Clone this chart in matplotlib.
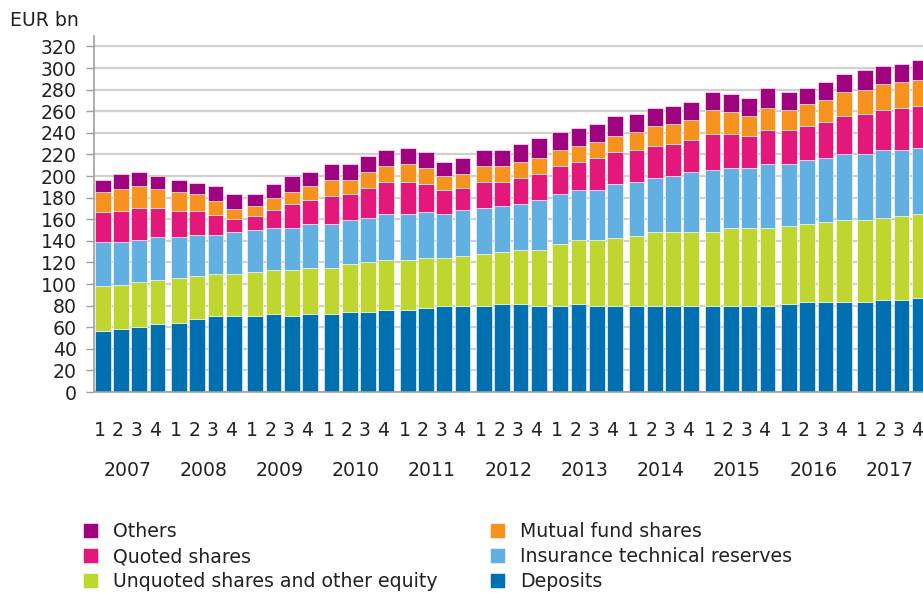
import matplotlib
matplotlib.use("Agg")
import matplotlib.pyplot as plt
import matplotlib.transforms as mtransforms
import numpy as np

years = [str(y) for y in range(2007, 2018)]
quarters = ["1", "2", "3", "4"]

deposits = [56.8, 58.6, 60.5, 62.7, 64.2, 67.9, 70.1, 70.1, 70.1, 71.9, 70.1, 71.9,
            71.9, 73.8, 73.8, 75.6, 75.9, 77.8, 79.6, 79.6, 79.6, 81.5, 81.5, 79.6,
            79.6, 81.2, 79.3, 79.3, 79.3, 79.3, 79.3, 79.3, 79.3, 79.3, 79.3, 79.3,
            81.2, 83.0, 83.0, 83.0, 83.0, 84.9, 84.9, 86.7]
unquoted = [41.3, 40.8, 41.0, 40.7, 41.0, 39.2, 38.8, 38.8, 40.7, 40.8, 42.6, 42.6,
            42.6, 44.4, 46.3, 46.3, 46.3, 46.3, 44.5, 46.3, 48.2, 48.1, 50.0, 51.9,
            57.4, 59.2, 61.1, 63.0, 64.8, 68.5, 68.5, 68.5, 68.5, 72.2, 72.2, 72.2,
            72.2, 72.2, 74.1, 75.9, 75.9, 75.9, 77.7, 77.8]
insurance = [40.5, 39.2, 38.9, 40.4, 38.6, 38.6, 36.8, 38.9, 38.9, 38.8, 38.8, 40.7,
             40.7, 40.7, 40.7, 42.6, 42.6, 42.6, 40.7, 42.6, 42.6, 42.6, 42.6, 46.3,
             46.3, 46.3, 46.3, 50.0, 50.0, 50.0, 51.9, 55.6, 57.4, 55.6, 55.6, 59.3,
             57.4, 59.3, 59.3, 61.2, 61.2, 63.0, 61.2, 61.1]
quoted = [27.8, 29.3, 29.7, 26.3, 24.1, 22.2, 18.5, 12.7, 12.9, 16.7, 22.3, 22.3,
          26.0, 24.1, 27.8, 29.6, 29.6, 25.9, 22.2, 20.4, 24.0, 22.2, 24.0, 24.1,
          26.0, 25.9, 29.7, 29.6, 29.7, 29.7, 29.6, 29.6, 33.4, 31.5, 29.6, 31.5,
          31.5, 31.5, 33.3, 35.1, 37.0, 37.0, 38.8, 38.9]
mutual = [18.5, 20.4, 20.3, 18.2, 17.0, 15.1, 13.0, 9.3, 9.3, 11.1, 11.1, 12.9,
          14.8, 13.0, 14.8, 14.9, 16.7, 14.8, 13.0, 13.0, 14.9, 14.9, 14.5, 14.5,
          14.5, 14.9, 14.8, 14.8, 16.6, 18.5, 18.5, 18.5, 22.2, 20.3, 18.5, 20.3,
          18.5, 20.4, 20.4, 22.3, 22.2, 24.1, 24.1, 24.1]
others = [11.4, 13.2, 13.0, 11.4, 11.1, 10.8, 13.2, 13.2, 11.1, 13.0, 14.8, 13.0,
          14.8, 14.8, 15.1, 14.8, 14.5, 14.5, 12.6, 14.5, 14.5, 14.5, 16.7, 18.5,
          16.6, 16.6, 16.6, 18.5, 16.7, 16.6, 16.7, 16.7, 16.7, 16.7, 16.7, 18.6,
          16.7, 14.8, 16.6, 16.6, 18.5, 16.6, 16.7, 18.5]

series = [
    ("Deposits", deposits, "#0070B0"),
    ("Unquoted shares and other equity", unquoted, "#BED62F"),
    ("Insurance technical reserves", insurance, "#62AFE2"),
    ("Quoted shares", quoted, "#E4177A"),
    ("Mutual fund shares", mutual, "#F7921E"),
    ("Others", others, "#A0037F"),
]

FS = 13.6
plt.rcParams["font.family"] = ["DejaVu Sans"]

W, H = 923, 593
fig = plt.figure(figsize=(W / 100, H / 100), dpi=100)
ax = fig.add_axes([94 / W, 1 - 392 / H, 1 - 94 / W, (392 - 36) / H])

year_step = 4.17
pos = np.array([yi * year_step + q for yi in range(len(years)) for q in range(len(quarters))])

bottom = np.zeros(len(pos))
handles = {}
for name, vals, col in series:
    v = np.array(vals)
    b = ax.bar(pos, v, bottom=bottom, width=0.86, color=col, edgecolor="#ffffff",
               linewidth=0.4, zorder=2, label=name)
    handles[name] = b
    bottom += v

ax.set_xlim(-0.48, 44.87)
ax.set_ylim(0, 329.7)
ax.set_yticks(np.arange(0, 321, 20))
ax.set_yticklabels([str(t) for t in range(0, 321, 20)], fontsize=FS, color="#222222")
ax.yaxis.grid(True, color="#D0D0D0", linewidth=1.6, zorder=0)
ax.set_axisbelow(True)
ax.tick_params(axis="y", length=6, width=1, color="#A0A0A0", pad=6.3)
ax.set_xticks([])
for s in ["top", "right"]:
    ax.spines[s].set_visible(False)
for s in ["left", "bottom"]:
    ax.spines[s].set_color("#A0A0A0")
    ax.spines[s].set_linewidth(1.2)

trans = mtransforms.blended_transform_factory(ax.transData, fig.transFigure)
trans = mtransforms.offset_copy(trans, fig=fig, x=-3, y=0, units="dots")
for i, p in enumerate(pos):
    ax.text(p, 1 - 430 / H, quarters[i % 4], transform=trans, ha="center", va="center",
            fontsize=FS, color="#222222", clip_on=False)
for yi, y in enumerate(years):
    c = pos[yi * 4:(yi + 1) * 4].mean()
    ax.text(c, 1 - 470.5 / H, y, transform=trans, ha="center", va="center",
            fontsize=FS, color="#222222", clip_on=False)

fig.text(10 / W, 1 - 20.5 / H, "EUR bn", ha="left", va="center", fontsize=FS, color="#222222")

order = ["Others", "Quoted shares", "Unquoted shares and other equity",
         "Mutual fund shares", "Insurance technical reserves", "Deposits"]
leg = fig.legend([handles[n] for n in order], order, ncol=2, loc="upper left",
                 bbox_to_anchor=(83 / W, 1 - 522 / H), frameon=False, fontsize=FS,
                 handlelength=0.8, handleheight=0.8, handletextpad=0.8,
                 columnspacing=2.75, labelspacing=0.32, borderpad=0, borderaxespad=0)
for t in leg.get_texts():
    t.set_color("#222222")

fig.savefig("out.png", dpi=100)
